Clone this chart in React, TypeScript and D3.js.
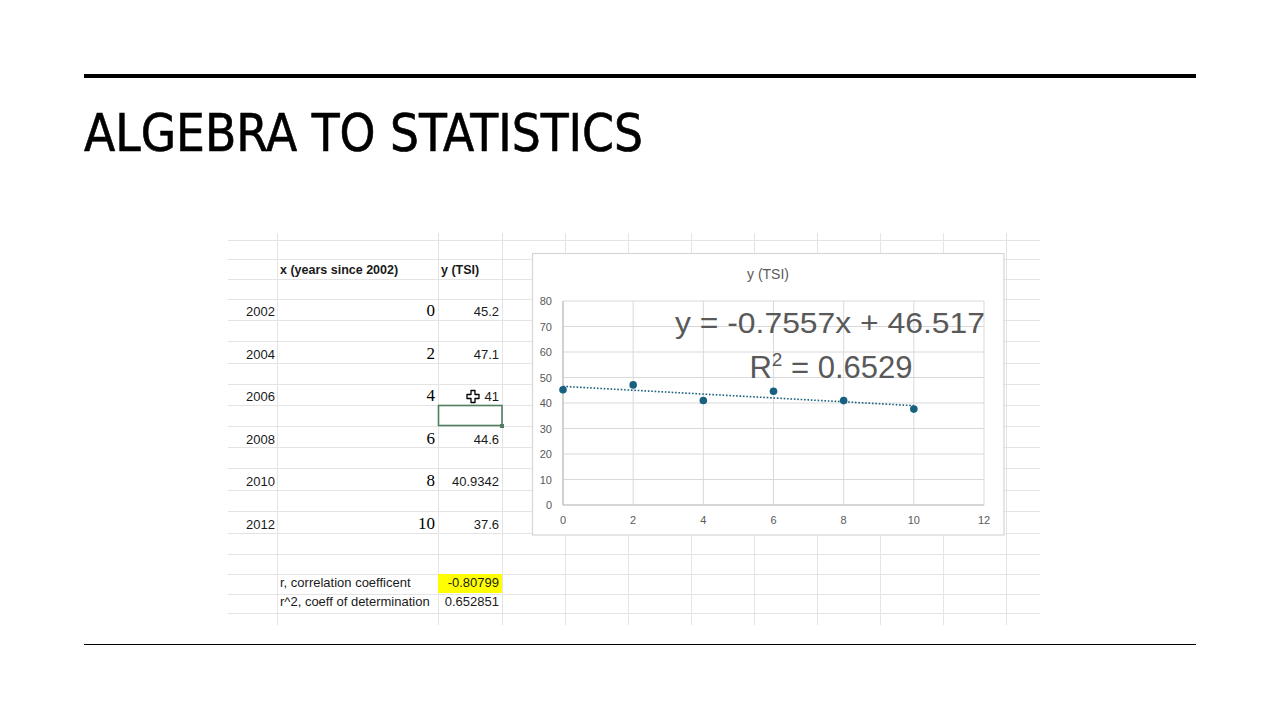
import React from "react";
import * as d3 from "d3";

const years = ["2002", "2004", "2006", "2008", "2010", "2012"];
const xValues = [0, 2, 4, 6, 8, 10];
const yValues = [45.2, 47.1, 41, 44.6, 40.9342, 37.6];
const yLabels = ["45.2", "47.1", "41", "44.6", "40.9342", "37.6"];
const xTicks = [0, 2, 4, 6, 8, 10, 12];
const yTicks = [0, 10, 20, 30, 40, 50, 60, 70, 80];
const slope = -0.7557;
const intercept = 46.517;
const rValue = "-0.80799";
const r2Value = "0.652851";
const r2Label = "0.6529";

const W = 1280;
const H = 720;

// spreadsheet layout
const sheetCols = [277, 438, 502, 565, 628, 691, 754, 817, 880, 943, 1006];
const sheetRows = [240, 259, 279, 299, 320, 341, 363, 384, 405, 426, 447, 468, 490, 511, 533, 554, 574, 594, 613];
const gridColor = "#e4e4e4";
const tableFont = "'Liberation Sans', Arial, sans-serif";
const gray = "#595959";
const dotColor = "#17607f";

export default function App() {
  const plot = { left: 563, right: 984, top: 301, bottom: 505 };
  const x = d3.scaleLinear().domain([0, 12]).range([plot.left, plot.right]);
  const y = d3.scaleLinear().domain([0, 80]).range([plot.bottom, plot.top]);
  const trend = d3
    .line<number>()
    .x((d) => x(d))
    .y((d) => y(slope * d + intercept));
  const trendX = [d3.min(xValues)!, d3.max(xValues)!];

  const rowY = (i: number) => 311 + i * 42.6;

  return (
    <svg width={W} height={H} style={{ position: "absolute", left: 0, top: 0, background: "#fff" }}>
      <rect x={0} y={0} width={W} height={H} fill="#fff" />
      {/* slide rules */}
      <rect x={84} y={74} width={1112} height={4} fill="#000" />
      <rect x={84} y={644} width={1112} height={1} fill="#000" />
      <text
        x={84}
        y={151}
        fontFamily="'Liberation Sans Narrow', 'DejaVu Sans Condensed', 'Liberation Sans', sans-serif"
        fontStretch="condensed"
        fontSize={52}
        fill="#000"
        stroke="#000"
        strokeWidth={0.6}
        textLength={559}
        lengthAdjust="spacingAndGlyphs"
      >
        ALGEBRA TO STATISTICS
      </text>

      {/* sheet grid */}
      {sheetRows.map((r) => (
        <line key={"h" + r} x1={228} x2={1040} y1={r + 0.5} y2={r + 0.5} stroke={gridColor} strokeWidth={1} />
      ))}
      {sheetCols.map((c) => (
        <line key={"v" + c} x1={c + 0.5} x2={c + 0.5} y1={233} y2={625} stroke={gridColor} strokeWidth={1} />
      ))}

      {/* highlighted r cell */}
      <rect x={438} y={574} width={64} height={19} fill="#ffff00" />

      {/* selected cell */}
      <rect x={438.5} y={405.5} width={63.5} height={20} fill="none" stroke="#4f7f5f" strokeWidth={1.6} />
      <rect x={500} y={424} width={4} height={4} fill="#4f7f5f" />

      {/* table text */}
      <g fontFamily={tableFont} fontSize={13} fill="#1a1a1a">
        <text x={280} y={273.5} fontWeight="bold" fontSize={12.5}>x (years since 2002)</text>
        <text x={441} y={273.5} fontWeight="bold" fontSize={12.5}>y (TSI)</text>
        {years.map((yr, i) => (
          <text key={yr} x={246} y={rowY(i) + 5}>{yr}</text>
        ))}
        {yLabels.map((v, i) => (
          <text key={"yl" + i} x={499} y={rowY(i) + 5} textAnchor="end">{v}</text>
        ))}
        <text x={280} y={586.5}>r, correlation coefficent</text>
        <text x={499} y={586.5} textAnchor="end">{rValue}</text>
        <text x={280} y={605.5}>r^2, coeff of determination</text>
        <text x={499} y={605.5} textAnchor="end">{r2Value}</text>
      </g>
      <g fontFamily="'Liberation Serif', 'Times New Roman', serif" fontSize={17} fill="#000">
        {xValues.map((v, i) => (
          <text key={"xv" + i} x={435} y={rowY(i) + 5} textAnchor="end">{v}</text>
        ))}
      </g>

      {/* cursor */}
      <path
        d="M471,390.5 h4 v4 h4 v4 h-4 v4 h-4 v-4 h-4 v-4 h4 z"
        fill="#fff"
        stroke="#000"
        strokeWidth={1.3}
        strokeLinejoin="round"
      />

      {/* chart */}
      <rect x={532.5} y={253.5} width={471.5} height={281.5} fill="#fff" stroke="#d6d6d6" strokeWidth={1.2} />
      <text x={768} y={279} textAnchor="middle" fontFamily={tableFont} fontSize={14} fill={gray}>
        y (TSI)
      </text>
      {yTicks.map((t) => (
        <line key={"gy" + t} x1={plot.left} x2={plot.right} y1={y(t)} y2={y(t)} stroke="#d9d9d9" strokeWidth={1} />
      ))}
      {xTicks.map((t) => (
        <line key={"gx" + t} x1={x(t)} x2={x(t)} y1={plot.top} y2={plot.bottom} stroke="#d9d9d9" strokeWidth={1} />
      ))}
      <line x1={plot.left} x2={plot.right} y1={y(0)} y2={y(0)} stroke="#bfbfbf" strokeWidth={1.2} />
      <line x1={plot.left} x2={plot.left} y1={plot.top} y2={plot.bottom} stroke="#bfbfbf" strokeWidth={1.2} />
      <g fontFamily={tableFont} fontSize={11} fill={gray}>
        {yTicks.map((t) => (
          <text key={"ty" + t} x={552} y={y(t) + 4} textAnchor="end">{t}</text>
        ))}
        {xTicks.map((t) => (
          <text key={"tx" + t} x={x(t)} y={524} textAnchor="middle">{t}</text>
        ))}
      </g>
      <path d={trend(trendX) || ""} fill="none" stroke={dotColor} strokeWidth={1.6} strokeDasharray="1.6,1.8" />
      {xValues.map((v, i) => (
        <circle key={"p" + i} cx={x(v)} cy={y(yValues[i])} r={3.8} fill={dotColor} />
      ))}
      <g fontFamily={tableFont} fill={gray}>
        <text x={830} y={333} textAnchor="middle" fontSize={30} textLength={310} lengthAdjust="spacingAndGlyphs">
          {`y = ${slope}x + ${intercept}`}
        </text>
        <text x={831} y={378} textAnchor="middle" fontSize={31}>
          R<tspan dy={-12} fontSize={19}>2</tspan>
          <tspan dy={12}>{` = ${r2Label}`}</tspan>
        </text>
      </g>
    </svg>
  );
}
